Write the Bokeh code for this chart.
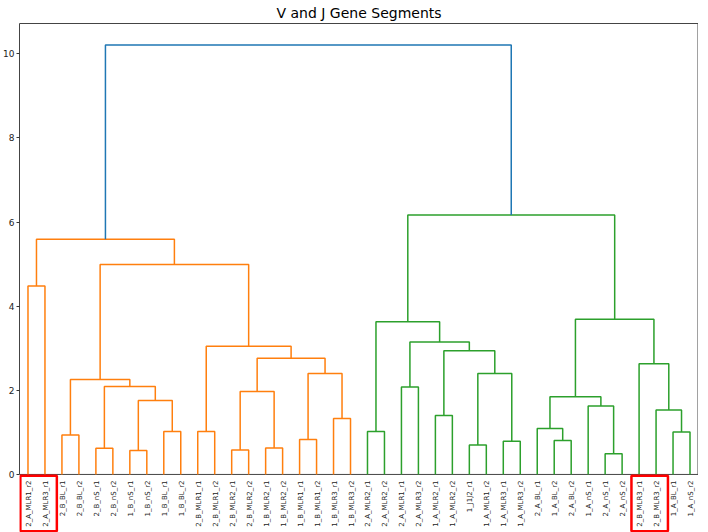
import numpy as np
from bokeh.plotting import figure
from bokeh.models import FixedTicker, LinearAxis, ColumnDataSource
from bokeh.core.properties import value
from bokeh.embed import file_html
from bokeh.resources import INLINE

labels = [
    "2_A_MLR1_r2", "2_A_MLR3_r1", "2_B_BL_r1", "2_B_BL_r2", "2_B_nS_r1",
    "2_B_nS_r2", "1_B_nS_r1", "1_B_nS_r2", "1_B_BL_r1", "1_B_BL_r2",
    "2_B_MLR1_r1", "2_B_MLR1_r2", "2_B_MLR2_r1", "2_B_MLR2_r2", "1_B_MLR2_r1",
    "1_B_MLR2_r2", "1_B_MLR1_r1", "1_B_MLR1_r2", "1_B_MLR3_r1", "1_B_MLR3_r2",
    "2_A_MLR2_r1", "2_A_MLR2_r2", "2_A_MLR1_r1", "2_A_MLR3_r2", "1_A_MLR2_r1",
    "1_A_MLR2_r2", "1_J1J2_r1", "1_A_MLR1_r2", "1_A_MLR3_r1", "1_A_MLR3_r2",
    "2_A_BL_r1", "1_A_BL_r2", "2_A_BL_r2", "1_A_nS_r1", "2_A_nS_r1",
    "2_A_nS_r2", "2_B_MLR3_r1", "2_B_MLR3_r2", "1_A_BL_r1", "1_A_nS_r2",
]

# linkage: node ids < 40 are leaves, id 40+k is the k-th merge below
merge_left = [0, 2, 4, 6, 8, 43, 42, 41, 10, 12, 14, 49, 16, 18, 52, 51, 48, 47, 40,
              20, 22, 24, 26, 28, 62, 61, 60, 59, 31, 30, 34, 33, 69, 38, 37, 36, 72, 67, 58]
merge_right = [1, 3, 5, 7, 9, 44, 45, 46, 11, 13, 15, 50, 17, 19, 53, 54, 55, 56, 57,
               21, 23, 25, 27, 29, 63, 64, 65, 66, 32, 68, 35, 70, 71, 39, 73, 74, 75, 76, 77]
merge_height = [4.48, 0.94, 0.62, 0.57, 1.02, 1.76, 2.09, 2.26, 1.02, 0.58, 0.63, 1.97,
                0.83, 1.33, 2.40, 2.76, 3.05, 4.99, 5.59,
                1.02, 2.08, 1.40, 0.70, 0.79, 2.40, 2.94, 3.15, 3.63, 0.81, 1.09, 0.49,
                1.63, 1.85, 1.01, 1.53, 2.63, 3.69, 6.17, 10.21]

highlight_groups = [(0, 1), (36, 37)]
y_ticks = [0, 2, 4, 6, 8, 10]

n = len(labels)
xpos = {i: 5 + 10 * i for i in range(n)}
ypos = {i: 0.0 for i in range(n)}
children = {}
for k, (a, b, h) in enumerate(zip(merge_left, merge_right, merge_height)):
    node = n + k
    xpos[node] = (xpos[a] + xpos[b]) / 2
    ypos[node] = h
    children[node] = (a, b)
root = n + len(merge_height) - 1
threshold = 0.7 * max(merge_height)
palette = ["#ff7f0e", "#2ca02c", "#d62728", "#9467bd"]
above_color = "#1f77b4"

node_color = {}
cluster_idx = [0]


def assign(node, color):
    if node < n:
        return
    if ypos[node] >= threshold:
        node_color[node] = above_color
        for c in children[node]:
            if c >= n and ypos[c] < threshold:
                col = palette[cluster_idx[0] % len(palette)]
                cluster_idx[0] += 1
                assign(c, col)
            else:
                assign(c, above_color)
    else:
        node_color[node] = color
        for c in children[node]:
            assign(c, color)


assign(root, above_color)

xs, ys, cols = [], [], []
for node, (a, b) in children.items():
    xs.append([xpos[a], xpos[a], xpos[b], xpos[b]])
    ys.append([ypos[a], ypos[node], ypos[node], ypos[b]])
    cols.append(node_color[node])
src = ColumnDataSource(dict(xs=xs, ys=ys, color=cols))

xmax = 10 * n
ymax = max(merge_height) * 1.05
y_low = -1.38          # room below the axis for the leaf labels (inside the frame)
spine = "#444444"

p = figure(frame_width=679, frame_height=509, x_range=(0, xmax), y_range=(y_low, ymax),
           output_backend="svg", toolbar_location=None, title="V and J Gene Segments")
p.xaxis.visible = False
p.grid.visible = False
p.outline_line_color = None
p.min_border_left = 0
p.min_border_right = 0
p.min_border_top = 0
p.min_border_bottom = 0
p.background_fill_color = "white"
p.border_fill_color = "white"

p.title.align = "center"
p.title.text_font = "DejaVu Sans"
p.title.text_font_size = "14px"
p.title.text_font_style = "normal"
p.title.text_color = "#000000"
p.title.standoff = 5

# left spine / y axis
ya = p.yaxis[0]
ya.ticker = FixedTicker(ticks=y_ticks)
ya.bounds = (0, ymax)
ya.axis_line_color = spine
ya.major_tick_line_color = "#333333"
ya.major_tick_out = 3
ya.major_tick_in = 0
ya.minor_tick_line_color = None
ya.major_label_text_font = "DejaVu Sans"
ya.major_label_text_font_size = "9px"
ya.major_label_text_color = "#222222"
ya.major_label_standoff = 2

# top spine
ta = LinearAxis(ticker=FixedTicker(ticks=[]), axis_line_color=spine,
                major_label_text_font_size="0px", minor_tick_line_color=None,
                major_tick_line_color=None)
p.add_layout(ta, "above")

# bottom and right spines
p.segment(x0=[0, xmax], y0=[0, 0], x1=[xmax, xmax], y1=[0, ymax],
          line_color=spine, line_width=[1, 2])

# dendrogram links
p.multi_line("xs", "ys", color="color", line_width=1.5, source=src)

# leaf labels
lab_src = ColumnDataSource(dict(x=[xpos[i] for i in range(n)], y=[0] * n, text=labels))
p.text(x="x", y="y", text="text", source=lab_src, angle=np.pi / 2,
       text_align="right", text_baseline="middle", y_offset=6, x_offset=1,
       text_font=value("DejaVu Sans"), text_font_size="7px", text_color="#222222")

# red highlight boxes around the labels of selected leaves
box_left = [xpos[i] - 4.5 for (i, j) in highlight_groups]
box_right = [xpos[j] + 7.0 for (i, j) in highlight_groups]
p.quad(left=box_left, right=box_right, bottom=[-1.35] * len(box_left),
       top=[-0.03] * len(box_left), fill_color=None, line_color="#ff0000", line_width=2.5)

open("out.html", "w").write(file_html(p, INLINE))
